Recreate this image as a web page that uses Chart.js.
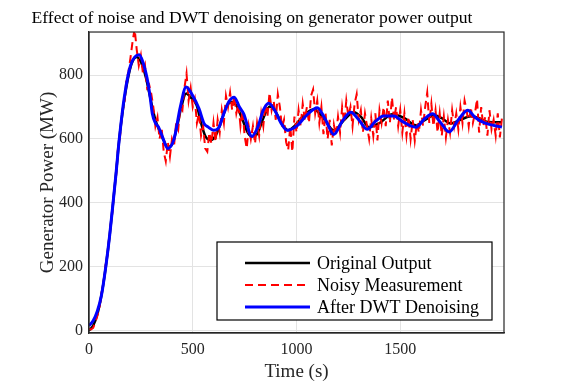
<!DOCTYPE html>
<html>
<head>
<meta charset="utf-8">
<script src="https://cdn.jsdelivr.net/npm/chart.js@4.4.1/dist/chart.umd.min.js"></script>
<style>
  html, body { margin: 0; padding: 0; background: #fff; }
  #wrap { width: 582px; height: 387px; }
</style>
</head>
<body>
<div id="wrap"><canvas id="chart" width="582" height="387"></canvas></div>
<script>
// values
const seriesNames = ['Original Output', 'Noisy Measurement', 'After DWT Denoising'];

const originalTime = [0, 20, 40, 60, 81, 100, 116, 130, 146, 165, 185, 205, 229, 245, 260, 275, 290, 305, 320, 340, 360, 380, 400,
  425, 445, 468, 490, 519, 540, 560, 584, 610, 640, 665, 689, 710, 740, 765, 785, 810, 840, 871, 895, 920, 960, 990, 1030,
  1083, 1130, 1180, 1230, 1277, 1310, 1349, 1400, 1462, 1520, 1575, 1620, 1664, 1700, 1744, 1790, 1841, 1880, 1922, 1990];
const originalPower = [0, 15, 50, 110, 200, 300, 400, 490, 600, 700, 780, 835, 857, 848, 825, 790, 745, 700, 660, 625, 595, 575, 582,
  640, 700, 742, 730, 705, 650, 610, 596, 610, 660, 705, 716, 705, 660, 620, 608, 615, 665, 702, 690, 660, 627, 640, 670,
  693, 665, 627, 660, 684, 670, 637, 650, 677, 665, 643, 660, 674, 665, 648, 660, 671, 665, 653, 652];

const denoisedTime = [0, 20, 40, 60, 81, 100, 116, 130, 146, 170, 200, 242, 260, 280, 295, 305, 320, 335, 355, 380, 410, 440,
  468, 500, 530, 555, 575, 600, 625, 650, 675, 700, 725, 745, 785, 815, 840, 866, 895, 925, 954, 1000, 1050, 1100, 1140,
  1180, 1220, 1261, 1300, 1341, 1380, 1420, 1470, 1510, 1575, 1620, 1656, 1690, 1736, 1780, 1825, 1860, 1906, 1990];
const denoisedPower = [15, 30, 60, 110, 200, 300, 400, 490, 600, 730, 830, 864, 840, 790, 730, 680, 650, 637, 605, 570, 600, 700,
  763, 735, 695, 648, 637, 627, 635, 680, 718, 731, 700, 679, 608, 640, 690, 712, 690, 650, 627, 640, 675, 698, 660,
  614, 655, 684, 660, 630, 655, 672, 672, 655, 637, 665, 679, 655, 622, 660, 690, 668, 650, 637];

// noisy samples every 10 s, from t = 0 to t = 1990
const noisyPower = [5, 3, 8, 25, 45, 70, 115, 150, 205, 240, 310, 355, 430, 480, 575, 610, 690, 705, 785, 810,
  855, 905, 945, 880, 830, 862, 805, 830, 760, 770, 742, 700, 640, 668, 600, 635, 560, 530, 590, 545,
  600, 580, 650, 630, 700, 690, 760, 805, 720, 760, 700, 725, 650, 680, 610, 640, 570, 560, 620, 585,
  650, 590, 660, 620, 690, 650, 735, 700, 745, 690, 735, 680, 710, 640, 690, 610, 570, 640, 600, 640,
  585, 650, 610, 680, 640, 710, 670, 745, 690, 720, 660, 740, 700, 635, 660, 590, 565, 640, 560, 670,
  620, 690, 640, 710, 660, 700, 650, 735, 755, 680, 720, 650, 700, 615, 680, 600, 660, 580, 645, 610,
  670, 620, 700, 650, 720, 670, 700, 640, 710, 740, 660, 690, 620, 680, 640, 600, 665, 610, 680, 595,
  690, 650, 700, 640, 720, 650, 730, 660, 700, 640, 690, 620, 680, 610, 670, 600, 660, 595, 650, 620,
  690, 640, 700, 745, 650, 710, 640, 690, 620, 680, 610, 670, 605, 660, 620, 690, 640, 680, 630, 700,
  650, 720, 690, 640, 700, 650, 680, 725, 620, 700, 640, 670, 610, 690, 630, 660, 610, 680, 605, 665];
const noisyStep = 10;

const xTickValues = [0, 500, 1000, 1500];
const yTickValues = [0, 200, 400, 600, 800];

const toPoints = (xs, ys) => ys.map((y, i) => ({ x: xs[i], y }));
const noisyPoints = noisyPower.map((y, i) => ({ x: i * noisyStep, y }));

const SERIF = "'Liberation Serif', 'DejaVu Serif', serif";
const AXIS = '#262626';

const boxAndLegend = {
  id: 'boxAndLegend',
  afterDraw(chart) {
    const { ctx, chartArea: a } = chart;
    ctx.save();
    ctx.strokeStyle = AXIS;
    ctx.lineWidth = 1.2;
    ctx.strokeRect(a.left, a.top, a.right - a.left, a.bottom - a.top);

    // legend box, lower right inside the axes
    const lx = a.right - 287;
    const ly = a.bottom - 91;
    const lw = 275;
    const lh = 78;
    ctx.fillStyle = '#fff';
    ctx.fillRect(lx, ly, lw, lh);
    ctx.strokeStyle = '#000';
    ctx.lineWidth = 1.2;
    ctx.strokeRect(lx, ly, lw, lh);

    ctx.font = '18px ' + SERIF;
    ctx.textBaseline = 'middle';
    ctx.textAlign = 'left';
    chart.data.datasets.forEach((ds, i) => {
      const y = ly + 21 + i * 22;
      ctx.beginPath();
      ctx.strokeStyle = ds.borderColor;
      ctx.lineWidth = ds.borderWidth;
      ctx.setLineDash(ds.borderDash || []);
      ctx.moveTo(lx + 28, y);
      ctx.lineTo(lx + 93, y);
      ctx.stroke();
      ctx.setLineDash([]);
      ctx.fillStyle = '#000';
      ctx.fillText(ds.label, lx + 100, y + 1);
    });
    ctx.restore();
  },
};

new Chart(document.getElementById('chart').getContext('2d'), {
  type: 'line',
  data: {
    datasets: [
      {
        label: seriesNames[0],
        data: toPoints(originalTime, originalPower),
        borderColor: '#000000',
        borderWidth: 2.5,
        cubicInterpolationMode: 'monotone',
        pointRadius: 0,
        order: 3,
      },
      {
        label: seriesNames[1],
        data: noisyPoints,
        borderColor: '#ff0000',
        borderWidth: 2,
        borderDash: [8, 5],
        tension: 0,
        pointRadius: 0,
        order: 2,
      },
      {
        label: seriesNames[2],
        data: toPoints(denoisedTime, denoisedPower),
        borderColor: '#0000ff',
        borderWidth: 3,
        cubicInterpolationMode: 'monotone',
        pointRadius: 0,
        order: 1,
      },
    ],
  },
  options: {
    responsive: false,
    animation: false,
    layout: { padding: { left: 0, right: 78, top: 0, bottom: 0 } },
    plugins: {
      legend: { display: false },
      tooltip: { enabled: false },
      title: {
        display: true,
        text: 'Effect of noise and DWT denoising on generator power output',
        color: '#000',
        font: { family: SERIF, size: 17.6, weight: 'normal' },
        padding: { top: 7.5, bottom: 3.4 },
      },
    },
    scales: {
      x: {
        type: 'linear',
        min: 0,
        max: 2000,
        afterBuildTicks: (scale) => { scale.ticks = xTickValues.map((v) => ({ value: v })); },
        afterFit: (scale) => { scale.height = 54; },
        grid: { color: '#e3e3e3', lineWidth: 1, drawTicks: false },
        border: { color: AXIS, width: 1.2 },
        ticks: {
          color: AXIS,
          font: { family: SERIF, size: 16 },
          padding: 7,
          maxRotation: 0,
          callback: (v) => String(v),
        },
        title: {
          display: true,
          text: 'Time (s)',
          color: AXIS,
          font: { family: SERIF, size: 19 },
          padding: { top: 0, bottom: 4 },
        },
      },
      y: {
        min: -8,
        max: 935,
        afterBuildTicks: (scale) => { scale.ticks = yTickValues.map((v) => ({ value: v })); },
        afterFit: (scale) => { scale.width = 89; },
        grid: { color: '#e3e3e3', lineWidth: 1, drawTicks: false },
        border: { color: AXIS, width: 1.2 },
        ticks: { color: AXIS, font: { family: SERIF, size: 16 }, padding: 6, callback: (v) => String(v) },
        title: {
          display: true,
          text: 'Generator Power (MW)',
          color: AXIS,
          font: { family: SERIF, size: 19 },
          padding: { top: 37, bottom: 0 },
        },
      },
    },
  },
  plugins: [boxAndLegend],
});
</script>
</body>
</html>
